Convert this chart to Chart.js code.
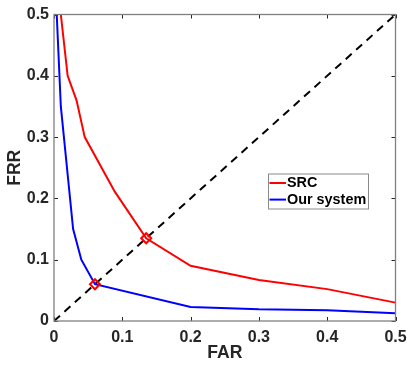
<!DOCTYPE html>
<html>
<head>
<meta charset="utf-8">
<script src="https://cdn.jsdelivr.net/npm/chart.js@4"></script>
<style>
  html, body { margin: 0; padding: 0; background: #fff; }
  #wrap { width: 407px; height: 366px; }
</style>
</head>
<body>
<div id="wrap"><canvas id="grafico" width="407" height="366"></canvas></div>
<script>
// datos
const srcFar = [0.01, 0.02, 0.033, 0.045, 0.089, 0.135, 0.2, 0.3, 0.4, 0.5];
const srcFrr = [0.5, 0.4, 0.36, 0.3, 0.211, 0.135, 0.09, 0.067, 0.052, 0.03];

const oursFar = [0.004, 0.01, 0.028, 0.04, 0.06, 0.2, 0.3, 0.4, 0.5];
const oursFrr = [0.5, 0.35, 0.15, 0.1, 0.06, 0.023, 0.019, 0.0175, 0.0125];

const diagFar = [0, 0.5];
const diagFrr = [0, 0.5];

const eerFar = [0.06, 0.135];
const eerFrr = [0.06, 0.135];

const axisTicks = [0, 0.1, 0.2, 0.3, 0.4, 0.5];

const fuente = 'Liberation Sans, Arial, Helvetica, sans-serif';

function puntos(xs, ys) {
    return xs.map((x, i) => ({ x: x, y: ys[i] }));
}

// caja y marcas hacia adentro (estilo matlab)
const cajaPlugin = {
    id: 'caja',
    afterDatasetsDraw(chart) {
        const ctx = chart.ctx;
        const a = chart.chartArea;
        const sx = chart.scales.x;
        const sy = chart.scales.y;
        ctx.save();
        ctx.strokeStyle = '#262626';
        ctx.lineWidth = 1;
        axisTicks.forEach(v => {
            const px = Math.round(sx.getPixelForValue(v)) + 0.5;
            ctx.beginPath();
            ctx.moveTo(px, a.bottom); ctx.lineTo(px, a.bottom - 4);
            ctx.moveTo(px, a.top); ctx.lineTo(px, a.top + 4);
            ctx.stroke();
            const py = Math.round(sy.getPixelForValue(v)) + 0.5;
            ctx.beginPath();
            ctx.moveTo(a.left, py); ctx.lineTo(a.left + 4, py);
            ctx.moveTo(a.right, py); ctx.lineTo(a.right - 4, py);
            ctx.stroke();
        });
        ctx.strokeStyle = '#808080';
        ctx.lineWidth = 1.3;
        ctx.strokeRect(a.left, a.top, a.right - a.left, a.bottom - a.top);
        ctx.restore();
    },
    afterDraw(chart) {
        // leyenda dentro del area
        const ctx = chart.ctx;
        const a = chart.chartArea;
        const bx = a.right - 127.5, by = a.top + 159, bw = 100, bh = 35;
        const filas = chart.data.datasets.filter(d => d.enLeyenda);
        ctx.save();
        ctx.fillStyle = '#fff';
        ctx.fillRect(bx, by, bw, bh);
        ctx.strokeStyle = '#8a8a8a';
        ctx.lineWidth = 1;
        ctx.strokeRect(bx + 0.5, by + 0.5, bw, bh);
        ctx.font = 'bold 14.4px ' + fuente;
        ctx.textBaseline = 'middle';
        ctx.textAlign = 'left';
        filas.forEach((d, i) => {
            const y = by + 9.5 + i * 16.6;
            ctx.strokeStyle = d.borderColor;
            ctx.lineWidth = 2;
            ctx.beginPath();
            ctx.moveTo(bx + 1.5, y); ctx.lineTo(bx + 18, y);
            ctx.stroke();
            ctx.fillStyle = '#000';
            ctx.fillText(d.label, bx + 19, y + 0.5);
        });
        ctx.restore();
    }
};

const ctx = document.getElementById('grafico').getContext('2d');
new Chart(ctx, {
    type: 'scatter',
    data: {
        datasets: [
            {
                label: 'EER',
                data: puntos(eerFar, eerFrr),
                showLine: false,
                pointStyle: 'rectRot',
                pointRadius: 5,
                borderColor: '#ff0000',
                backgroundColor: 'rgba(0,0,0,0)',
                borderWidth: 2,
                order: 0
            },
            {
                label: 'SRC',
                data: puntos(srcFar, srcFrr),
                showLine: true,
                borderColor: '#ff0000',
                borderWidth: 2,
                pointRadius: 0,
                enLeyenda: true,
                order: 2
            },
            {
                label: 'Our system',
                data: puntos(oursFar, oursFrr),
                showLine: true,
                borderColor: '#0000ff',
                borderWidth: 2,
                pointRadius: 0,
                enLeyenda: true,
                order: 3
            },
            {
                label: 'diagonal',
                data: puntos(diagFar, diagFrr),
                showLine: true,
                borderColor: '#000',
                borderWidth: 2,
                borderDash: [8, 6],
                pointRadius: 0,
                order: 1
            }
        ]
    },
    options: {
        responsive: false,
        animation: false,
        layout: { padding: { top: 14.5, right: 11.5, left: 0, bottom: 0 } },
        plugins: {
            legend: { display: false },
            tooltip: { enabled: false }
        },
        scales: {
            x: {
                type: 'linear',
                min: 0,
                max: 0.5,
                afterFit: s => { s.height = 45; s.paddingLeft = 0; s.paddingRight = 0; },
                grid: { display: false, drawTicks: false },
                border: { display: false },
                ticks: {
                    stepSize: 0.1,
                    padding: 7,
                    color: '#262626',
                    font: { family: fuente, size: 16, weight: 'bold' }
                },
                title: {
                    display: true,
                    text: 'FAR',
                    color: '#262626',
                    padding: { top: 0, bottom: 2 },
                    font: { family: fuente, size: 17.6, weight: 'bold' }
                }
            },
            y: {
                type: 'linear',
                min: 0,
                max: 0.5,
                afterFit: s => { s.width = 54; s.paddingTop = 0; s.paddingBottom = 0; },
                grid: { display: false, drawTicks: false },
                border: { display: false },
                ticks: {
                    stepSize: 0.1,
                    padding: 5,
                    color: '#262626',
                    font: { family: fuente, size: 16, weight: 'bold' }
                },
                title: {
                    display: true,
                    text: 'FRR',
                    color: '#262626',
                    padding: { top: 5, bottom: 0 },
                    font: { family: fuente, size: 17.6, weight: 'bold' }
                }
            }
        }
    },
    plugins: [cajaPlugin]
});
</script>
</body>
</html>
